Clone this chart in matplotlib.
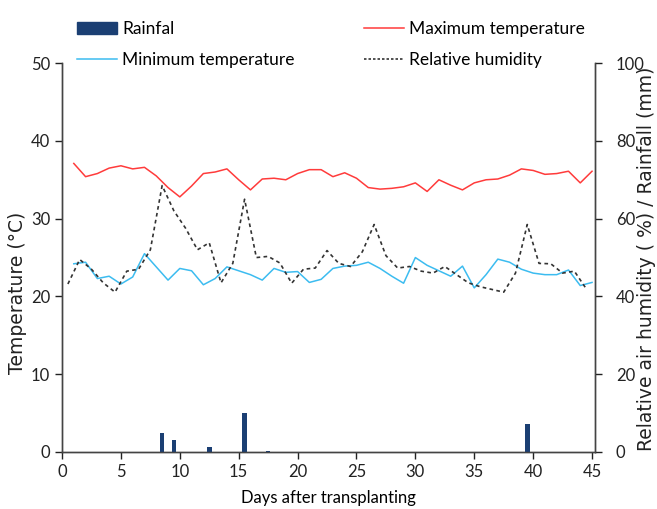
import matplotlib
matplotlib.use("Agg")
import matplotlib.pyplot as plt
from matplotlib.patches import Patch
from matplotlib.lines import Line2D

plt.rcParams['font.family'] = ['Lato', 'DejaVu Sans']

# ---- data ----
temp_days = list(range(1, 46))
max_temp = [37.1, 35.4, 35.8, 36.5, 36.8, 36.4, 36.6, 35.5, 34.0, 32.8,
            34.2, 35.8, 36.0, 36.4, 35.0, 33.7, 35.1, 35.2, 35.0, 35.8,
            36.3, 36.3, 35.4, 35.9, 35.2, 34.0, 33.8, 33.9, 34.1, 34.6,
            33.5, 35.0, 34.3, 33.7, 34.6, 35.0, 35.1, 35.6, 36.4, 36.2,
            35.7, 35.8, 36.1, 34.6, 36.1]
min_temp = [24.2, 24.4, 22.3, 22.6, 21.6, 22.5, 25.5, 23.8, 22.1, 23.6,
            23.3, 21.5, 22.3, 23.8, 23.3, 22.8, 22.1, 23.6, 23.1, 23.2,
            21.8, 22.2, 23.6, 23.9, 24.0, 24.4, 23.6, 22.6, 21.7, 25.0,
            24.0, 23.3, 22.6, 23.9, 21.1, 22.8, 24.8, 24.4, 23.5, 23.0,
            22.8, 22.8, 23.4, 21.4, 21.8]
rh_days = [d + 0.5 for d in range(0, 45)]
rel_humidity = [43.2, 49.5, 47.0, 43.5, 41.1, 46.5, 47.0, 52.0, 68.5, 62.0,
                57.5, 52.0, 53.8, 43.5, 48.5, 65.0, 50.0, 50.3, 48.6, 43.4,
                47.0, 47.3, 51.8, 48.5, 47.7, 51.5, 58.5, 50.5, 47.3, 47.7,
                46.5, 46.0, 47.7, 45.6, 43.5, 42.5, 41.8, 41.1, 46.0, 58.5,
                48.5, 48.4, 46.0, 46.5, 42.0]
rain_days = [8.5, 9.5, 12.5, 15.5, 17.5, 39.5]
rainfall = [4.9, 3.0, 1.3, 10.1, 0.3, 7.1]

RED = '#ff3b3b'
BLUE = '#3cbcf0'
NAVY = '#1b3f73'

fig = plt.figure(figsize=(6.57, 5.09), dpi=100)
ax = fig.add_axes([0.0944, 0.112, 0.8112, 0.764])
ax2 = ax.twinx()

ax2.bar(rain_days, rainfall, width=0.4, color=NAVY, zorder=2)
ax.plot(temp_days, max_temp, color=RED, lw=1.1, zorder=3)
ax.plot(temp_days, min_temp, color=BLUE, lw=1.1, zorder=3)
ax2.plot(rh_days, rel_humidity, color='#333333', lw=1.2,
         linestyle=(0, (2.2, 2.0)), zorder=3)

ax.set_xlim(0, 45.25)
ax.set_ylim(0, 50)
ax2.set_ylim(0, 100)
ax.set_xticks(range(0, 46, 5))
ax.set_yticks(range(0, 51, 10))
ax2.set_yticks(range(0, 101, 20))

for a in (ax, ax2):
    a.spines['top'].set_visible(False)
    for s in a.spines.values():
        s.set_color('#444444')
        s.set_linewidth(1.0)
    a.tick_params(labelsize=12, colors='#222222', length=5, width=1.0, direction='out')
ax2.tick_params(axis='y', pad=10)

ax.set_xlabel('Days after transplanting', fontsize=12, labelpad=7)
fig.text(18 / 657, 1 - 293 / 509, 'Temperature (°C)', family='DejaVu Sans',
         rotation=90, ha='center', va='center', fontsize=13.5, color='#222222')
fig.text(647 / 657, 1 - 259 / 509, 'Relative air humidity ( %) / Rainfall (mm)',
         family='DejaVu Sans', rotation=90, ha='center', va='center',
         fontsize=13.5, color='#222222')

handles = [Patch(color=NAVY),
           Line2D([], [], color=BLUE, lw=1.1),
           Line2D([], [], color=RED, lw=1.1),
           Line2D([], [], color='#333333', lw=1.2, linestyle=(0, (1.5, 1.2)))]
labels = ['Rainfal', 'Minimum temperature', 'Maximum temperature', 'Relative humidity']
fig.legend(handles, labels, ncol=2, loc='upper left', bbox_to_anchor=(0.107, 0.972),
           frameon=False, fontsize=12.5, handlelength=2.3, handletextpad=0.29,
           columnspacing=4.0, labelspacing=0.85, borderaxespad=0)

fig.savefig('out.png', dpi=100)
